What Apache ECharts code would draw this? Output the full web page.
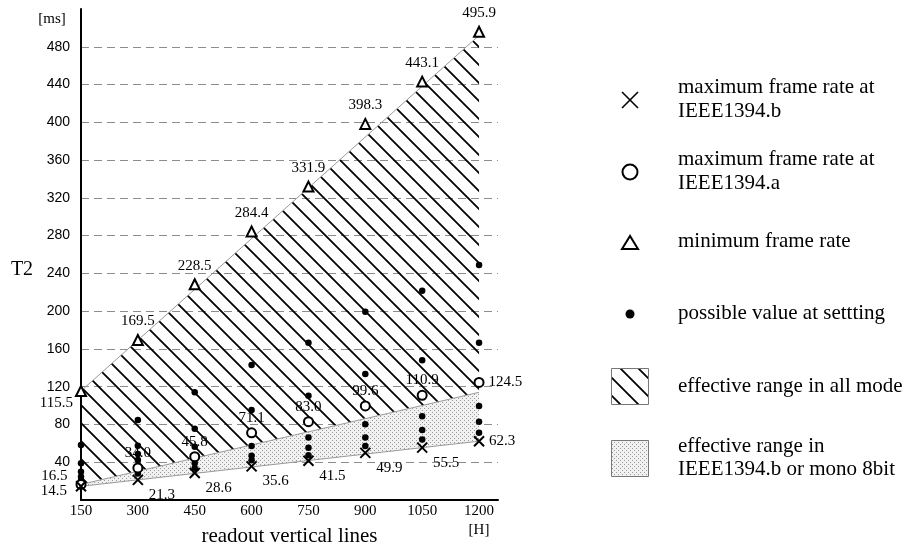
<!DOCTYPE html>
<html><head><meta charset="utf-8">
<script src="https://cdn.jsdelivr.net/npm/echarts@6/dist/echarts.min.js"></script>
<style>html,body{margin:0;padding:0;background:#fff}#c{width:911px;height:549px}</style>
</head><body><div id="c"></div>
<script>
// ---- data ----
const readoutLines = [150, 300, 450, 600, 750, 900, 1050, 1200];
const minFrameRate = [115.5, 169.5, 228.5, 284.4, 331.9, 398.3, 443.1, 495.9];
const maxRate1394a = [16.5, 34.0, 45.8, 71.1, 83.0, 99.6, 110.9, 124.5];
const maxRate1394b = [14.5, 21.3, 28.6, 35.6, 41.5, 49.9, 55.5, 62.3];
const possibleValues = [
  [58.2, 38.8, 30.0, 24.7, 20.5],
  [84.7, 57.5, 48.7, 42.3, 28.0],
  [114.0, 75.5, 56.4, 38.8, 33.5],
  [143.0, 95.3, 57.2, 46.9, 42.0],
  [166.5, 110.4, 66.3, 55.4, 47.3],
  [199.3, 133.4, 80.1, 66.3, 57.2],
  [221.6, 148.0, 88.6, 74.1, 64.2],
  [248.8, 166.5, 99.5, 82.9, 71.2]
];
const allModeUpper = [[150, 115.5], [1200, 492]];
const allModeLower = [[150, 16.5], [1200, 114]];
const monoLower = [[150, 14.5], [1200, 62.3]];
const yTickLabels = [40, 80, 120, 160, 200, 240, 280, 320, 360, 400, 440, 480];
const xTickLabels = [150, 300, 450, 600, 750, 900, 1050, 1200];
const legendItems = [
  ['maximum frame rate at', 'IEEE1394.b'],
  ['maximum frame rate at', 'IEEE1394.a'],
  ['minimum frame rate'],
  ['possible value at settting'],
  ['effective range in all mode'],
  ['effective range in', 'IEEE1394.b or mono 8bit']
];

// ---- patterns ----
function hatchCanvas() {
  const s = 18, c = document.createElement('canvas');
  c.width = s; c.height = s;
  const g = c.getContext('2d');
  g.strokeStyle = '#000'; g.lineWidth = 1.8;
  g.beginPath();
  g.moveTo(-2, -2); g.lineTo(s + 2, s + 2);
  g.moveTo(-2, s - 2); g.lineTo(2, s + 2);
  g.moveTo(s - 2, -2); g.lineTo(s + 2, 2);
  g.stroke();
  return c;
}
function dotCanvas() {
  const c = document.createElement('canvas');
  c.width = 4; c.height = 4;
  const g = c.getContext('2d');
  g.fillStyle = '#f1f1f1'; g.fillRect(0, 0, 4, 4);
  g.fillStyle = '#9a9a9a';
  g.fillRect(0, 0, 1, 1); g.fillRect(2, 2, 1, 1);
  return c;
}
const hatchFill = { image: hatchCanvas(), repeat: 'repeat' };
const dotFill = { image: dotCanvas(), repeat: 'repeat' };

const SERIF = '"Liberation Serif", "Times New Roman", serif';
const SANS = '"Liberation Sans", Arial, sans-serif';

function region(top, bottom, fill) {
  return {
    type: 'custom', silent: true, z: 1, clip: false,
    data: [[top[0][0], top[0][1]]],
    renderItem: function (params, api) {
      const pts = [api.coord(top[0]), api.coord(top[1]), api.coord(bottom[1]), api.coord(bottom[0])];
      return { type: 'polygon', shape: { points: pts }, style: { fill: fill, stroke: null } };
    }
  };
}
function border(pts) {
  return { type: 'line', data: pts, symbol: 'none', silent: true, z: 2,
    lineStyle: { color: '#9a9a9a', width: 1 } };
}
const fmt = p => p.value[1].toFixed(1);
const labelBase = { show: true, fontFamily: SERIF, fontSize: 15, color: '#000', formatter: fmt };

const triData = readoutLines.map((x, i) => i === 0
  ? { value: [x, minFrameRate[i]], label: { position: 'left', distance: 2, offset: [0, 12] } }
  : [x, minFrameRate[i]]);
const circData = readoutLines.map((x, i) => {
  if (i === 0) return { value: [x, maxRate1394a[i]], label: { position: 'left', distance: 8, offset: [0, -8] } };
  if (i === readoutLines.length - 1) return { value: [x, maxRate1394a[i]], label: { position: 'right', distance: 4 } };
  return [x, maxRate1394a[i]];
});
const crossData = readoutLines.map((x, i) => {
  if (i === 0) return { value: [x, maxRate1394b[i]], label: { position: 'left', distance: 8, offset: [0, 5] } };
  if (i === readoutLines.length - 1) return { value: [x, maxRate1394b[i]], label: { position: 'right', distance: 4, offset: [0, 0] } };
  return [x, maxRate1394b[i]];
});
const dotData = [];
readoutLines.forEach((x, i) => possibleValues[i].forEach(v => dotData.push([x, v])));

const crossPath = 'path://M0,0L10,10M10,0L0,10';

// legend graphics
const LX = 630, TX = 678;
const lg = [];
lg.push({ type: 'line', shape: { x1: LX - 8, y1: 92, x2: LX + 8, y2: 108 }, style: { stroke: '#000', lineWidth: 1.6 } });
lg.push({ type: 'line', shape: { x1: LX + 8, y1: 92, x2: LX - 8, y2: 108 }, style: { stroke: '#000', lineWidth: 1.6 } });
lg.push({ type: 'circle', shape: { cx: LX, cy: 172, r: 7.5 }, style: { fill: '#fff', stroke: '#000', lineWidth: 2 } });
lg.push({ type: 'polygon', shape: { points: [[LX, 236], [LX - 8, 249], [LX + 8, 249]] }, style: { fill: '#fff', stroke: '#000', lineWidth: 2 } });
lg.push({ type: 'circle', shape: { cx: LX, cy: 314, r: 4.5 }, style: { fill: '#000' } });
lg.push({ type: 'rect', shape: { x: 611.5, y: 368.5, width: 37, height: 36 }, style: { fill: hatchFill, stroke: '#777', lineWidth: 1 } });
lg.push({ type: 'rect', shape: { x: 611.5, y: 440.5, width: 37, height: 36 }, style: { fill: dotFill, stroke: '#777', lineWidth: 1 } });
const textYs = [[87, 111], [159, 183], [241], [313], [386], [446, 469]];
legendItems.forEach((lines, i) => lines.forEach((t, j) => {
  lg.push({ type: 'text', style: { text: t, x: TX, y: textYs[i][j], fill: '#000', font: '21px ' + SERIF, align: 'left', verticalAlign: 'middle' } });
}));
lg.push({ type: 'text', style: { text: 'T2', x: 22, y: 270, fill: '#000', font: '20px ' + SERIF, align: 'center', verticalAlign: 'middle' } });
lg.push({ type: 'text', style: { text: '[ms]', x: 52, y: 19, fill: '#000', font: '15px ' + SERIF, align: 'center', verticalAlign: 'middle' } });
lg.push({ type: 'text', style: { text: '[H]', x: 479, y: 530, fill: '#000', font: '15px ' + SERIF, align: 'center', verticalAlign: 'middle' } });

const chart = echarts.init(document.getElementById('c'), null, { renderer: 'canvas' });
chart.setOption({
  animation: false,
  backgroundColor: '#fff',
  grid: { left: 81, right: 413, top: 9, bottom: 49, containLabel: false, outerBoundsMode: 'none' },
  xAxis: {
    type: 'value', min: 150, max: 1250, interval: 150,
    name: 'readout vertical lines', nameLocation: 'middle', nameGap: 26,
    nameTextStyle: { fontFamily: SERIF, fontSize: 21, color: '#000' },
    axisLine: { show: true, lineStyle: { color: '#000', width: 2 } },
    axisTick: { show: false },
    axisLabel: { margin: 4, fontFamily: SERIF, fontSize: 15, color: '#000', showMaxLabel: false,
      formatter: v => xTickLabels.indexOf(v) >= 0 ? String(v) : '' },
    splitLine: { show: false }
  },
  yAxis: {
    type: 'value', min: 0, max: 520, interval: 40,
    axisLine: { show: true, lineStyle: { color: '#000', width: 2 } },
    axisTick: { show: false },
    axisLabel: { margin: 11, fontFamily: SANS, fontSize: 14, color: '#000',
      formatter: v => yTickLabels.indexOf(v) >= 0 ? String(v) : '' },
    splitLine: { show: true, showMinLine: false, showMaxLine: false,
      lineStyle: { color: '#8c8c8c', type: [8, 5], width: 1 } }
  },
  graphic: lg,
  series: [
    region(allModeUpper, allModeLower, hatchFill),
    region(allModeLower, monoLower, dotFill),
    border(allModeUpper), border(allModeLower), border(monoLower),
    { type: 'scatter', name: 'possible', data: dotData, symbol: 'circle', symbolSize: 6.5, z: 5,
      itemStyle: { color: '#000', opacity: 1 } },
    { type: 'scatter', name: 'min', data: triData, symbol: 'triangle', symbolSize: 10, z: 6,
      itemStyle: { color: '#fff', borderColor: '#000', borderWidth: 2, opacity: 1 },
      label: Object.assign({}, labelBase, { position: 'top', distance: 5 }) },
    { type: 'scatter', name: 'a', data: circData, symbol: 'circle', symbolSize: 9, z: 6,
      itemStyle: { color: '#fff', borderColor: '#000', borderWidth: 2, opacity: 1 },
      label: Object.assign({}, labelBase, { position: 'top', distance: 2 }) },
    { type: 'scatter', name: 'b', data: crossData, symbol: crossPath, symbolSize: 10, z: 7,
      itemStyle: { color: 'rgba(0,0,0,0)', borderColor: '#000', borderWidth: 2, opacity: 1 },
      label: Object.assign({}, labelBase, { position: 'inside', offset: [24, 15] }) }
  ]
});
</script></body></html>
